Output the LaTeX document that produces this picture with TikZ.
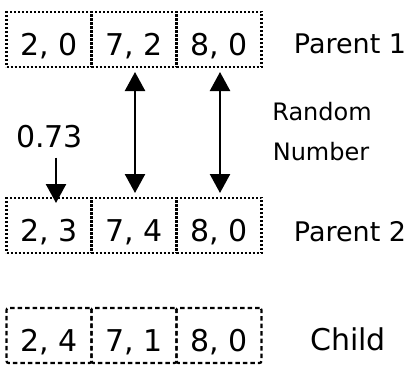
\documentclass[tikz,border=0pt]{standalone}
\usepackage{fontspec}
\setmainfont{DejaVu Sans}
\usetikzlibrary{arrows.meta}
\begin{document}
\begin{tikzpicture}[x=1pt,y=-1pt,
  cellbase/.style={minimum width=85pt,minimum height=55pt,inner sep=0pt,outer sep=0pt,
    text height=31pt,text depth=0pt,font=\fontsize{30}{36}\selectfont},
  dotcell/.style={cellbase,draw,line width=2.2pt,dash pattern=on 2pt off 2pt},
  dashcell/.style={cellbase,draw,line width=2.2pt,dash pattern=on 4.5pt off 3pt,rounded corners=2pt},
  biglabel/.style={anchor=base,font=\fontsize{27}{32}\selectfont},
  smalllabel/.style={anchor=base,font=\fontsize{24}{29}\selectfont},
  arr/.style={line width=2.4pt,-{Triangle[width=20pt,length=19pt]}},
  darr/.style={line width=2.4pt,{Triangle[width=20pt,length=19pt]}-{Triangle[width=20pt,length=19pt]}}
]
\useasboundingbox (0,0) rectangle (419,370);
% row 1
\node[dotcell] (a1) at (49,39.5) {2, 0};
\node[dotcell] (a2) at (134,39.5) {7, 2};
\node[dotcell] (a3) at (219,39.5) {8, 0};
% row 2
\node[dotcell] (b1) at (49,225.5) {2, 3};
\node[dotcell] (b2) at (134,225.5) {7, 4};
\node[dotcell] (b3) at (219,225.5) {8, 0};
% row 3
\node[dashcell] (c1) at (49,335.5) {2, 4};
\node[dashcell] (c2) at (134,335.5) {7, 1};
\node[dashcell] (c3) at (219,335.5) {8, 0};
% labels
\node[biglabel] (p1) at (350,53) {Parent 1};
\node[smalllabel] (rn1) at (322,120) {Random};
\node[smalllabel] (rn2) at (321,160) {Number};
\node[biglabel] (p2) at (350,241) {Parent 2};
\node[anchor=base,font=\fontsize{30}{36}\selectfont] (ch) at (348,350) {Child};
\node[anchor=base,font=\fontsize{30}{36}\selectfont,inner sep=0pt] (m) at (49.5,147) {0.73};
% arrows
\draw[darr,shorten <=5pt,shorten >=5pt] ([xshift=1pt]a2.south) -- ([xshift=1pt]b2.north);
\draw[darr,shorten <=5pt,shorten >=5pt] ([xshift=1pt]a3.south) -- ([xshift=1pt]b3.north);
\draw[arr,shorten >=-5pt] ([xshift=6.5pt,yshift=-10pt]m.south) -- ([xshift=7pt]b1.north);
\end{tikzpicture}
\end{document}
